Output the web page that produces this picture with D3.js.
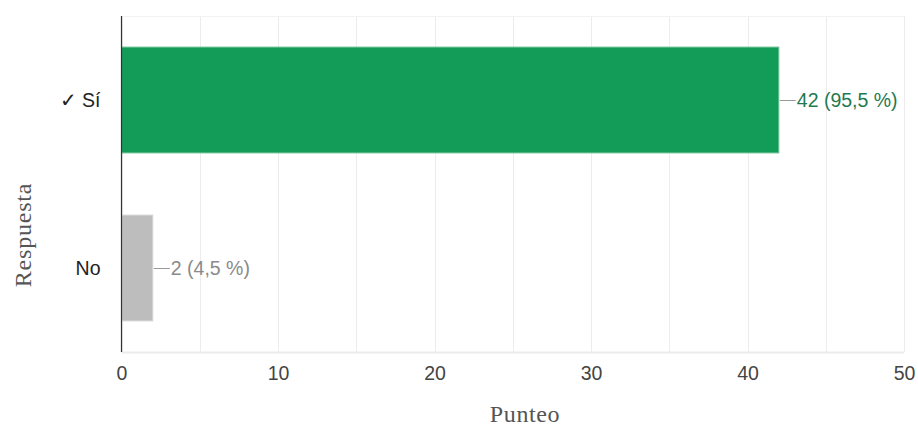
<!DOCTYPE html>
<html>
<head>
<meta charset="utf-8">
<script src="https://cdn.jsdelivr.net/npm/d3@7"></script>
<style>
  html, body { margin: 0; padding: 0; background: #fff; }
  svg { display: block; }
</style>
</head>
<body>
<svg id="chart" width="918" height="426"></svg>
<script>
// Survey answers and their counts
const categories = ["✓ Sí", "No"];
const counts = [42, 2];
const percents = ["95,5", "4,5"];
const xTicks = [0, 10, 20, 30, 40, 50];
const gridValues = [0, 5, 10, 15, 20, 25, 30, 35, 40, 45, 50];

const barFill = ["#139c57", "#bdbdbd"];
const barStroke = ["#6cc295", "#d6d6d6"];
const labelColor = ["#1f7a50", "#8a8a8a"];

const svg = d3.select("#chart");
const plotLeft = 121.5, plotRight = 904, plotTop = 16, plotBottom = 352;
const sans = "Liberation Sans, Arial, sans-serif";
const serif = "Liberation Serif, Times New Roman, serif";
const sansSize = 19.5;

const x = d3.scaleLinear().domain([0, 50]).range([plotLeft, plotRight]);
const y = d3.scaleBand().domain(categories).range([plotTop, plotBottom])
  .paddingInner(0.37).paddingOuter(0.185);

// Grid lines
svg.append("g").selectAll("line").data(gridValues).join("line")
  .attr("x1", d => Math.round(x(d)) + 0.5).attr("x2", d => Math.round(x(d)) + 0.5)
  .attr("y1", plotTop).attr("y2", plotBottom)
  .attr("stroke", "#ececec").attr("stroke-width", 1);
svg.append("line")
  .attr("x1", plotLeft).attr("x2", plotRight).attr("y1", plotTop + 0.5).attr("y2", plotTop + 0.5)
  .attr("stroke", "#f2f2f2");
svg.append("line")
  .attr("x1", plotLeft).attr("x2", plotRight).attr("y1", plotBottom + 0.5).attr("y2", plotBottom + 0.5)
  .attr("stroke", "#ececec").attr("stroke-width", 2);

// Bars
svg.append("g").selectAll("rect").data(categories).join("rect")
  .attr("x", x(0))
  .attr("y", d => y(d))
  .attr("width", (d, i) => x(counts[i]) - x(0))
  .attr("height", y.bandwidth())
  .attr("fill", (d, i) => barFill[i])
  .attr("stroke", (d, i) => barStroke[i])
  .attr("stroke-width", 1);

// Value labels with leader lines
const lab = svg.append("g");
categories.forEach((c, i) => {
  const cy = y(c) + y.bandwidth() / 2;
  const x0 = x(counts[i]);
  lab.append("line")
    .attr("x1", x0 + 1).attr("x2", x0 + 17).attr("y1", cy + 0.5).attr("y2", cy + 0.5)
    .attr("stroke", "#999").attr("stroke-width", 1);
  lab.append("text")
    .attr("x", x0 + 18).attr("y", cy + 6.8)
    .attr("font-family", sans)
    .attr("font-size", sansSize)
    .attr("fill", labelColor[i])
    .text(`${counts[i]} (${percents[i]} %)`);
});

// Category axis
const yAxis = d3.axisLeft(y).tickSize(0).tickPadding(21);
const gy = svg.append("g").attr("transform", `translate(${plotLeft},0)`).call(yAxis);
gy.select(".domain").remove();
gy.selectAll("text")
  .attr("font-family", sans)
  .attr("font-size", sansSize).attr("fill", "#222").attr("dy", "0.35em");

svg.append("line")
  .attr("x1", plotLeft).attr("x2", plotLeft).attr("y1", plotTop).attr("y2", plotBottom)
  .attr("stroke", "#333").attr("stroke-width", 1.2);

// Value axis
const xAxis = d3.axisBottom(x).tickValues(xTicks).tickSize(0).tickPadding(14);
const gx = svg.append("g").attr("transform", `translate(0,${plotBottom})`).call(xAxis);
gx.select(".domain").remove();
gx.selectAll("text")
  .attr("font-family", sans)
  .attr("font-size", sansSize).attr("fill", "#444");

// Axis titles
svg.append("text")
  .attr("transform", "translate(31,235) rotate(-90)")
  .attr("text-anchor", "middle")
  .attr("font-family", serif)
  .attr("font-size", 24).attr("letter-spacing", 0.8).attr("fill", "#555")
  .text("Respuesta");

svg.append("text")
  .attr("x", 525).attr("y", 422)
  .attr("text-anchor", "middle")
  .attr("font-family", serif)
  .attr("font-size", 24).attr("letter-spacing", 0.6).attr("fill", "#555")
  .text("Punteo");
</script>
</body>
</html>
